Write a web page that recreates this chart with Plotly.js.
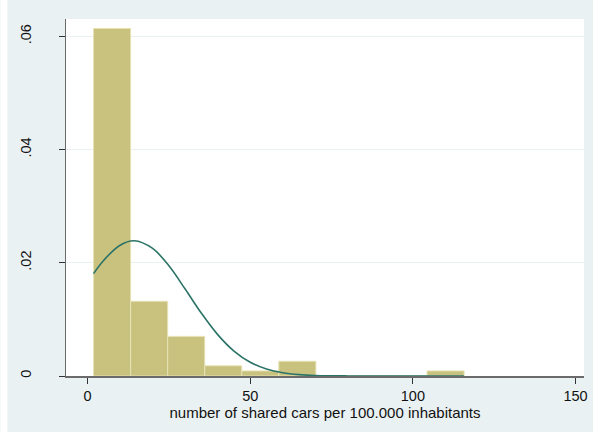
<!DOCTYPE html>
<html>
<head>
<meta charset="utf-8">
<script src="https://cdn.plot.ly/plotly-3.0.1.min.js"></script>
<style>
  html, body { margin: 0; padding: 0; background: #ffffff; }
  #chart { width: 593px; height: 432px; }
</style>
</head>
<body>
<div id="chart"></div>
<script>
// Histogram of shared cars per 100.000 inhabitants (density scale)
const binLower = [1.84, 13.23, 24.62, 36.01, 47.40, 58.79, 70.18, 81.57, 92.96, 104.35];
const binWidth = 11.39;
const binDensity = [0.0614, 0.0132, 0.0070, 0.0018, 0.0009, 0.0026, 0, 0, 0, 0.0009];

// Normal density overlay, sampled along the x axis
const curveX = [1.84, 5, 10, 14.3, 20, 25, 30, 35, 40, 45, 50, 55, 60, 65, 70, 80, 90, 115.7];
const curveY = [0.01809, 0.02046, 0.02311, 0.02389, 0.02254, 0.01946, 0.01536, 0.01108,
                0.00731, 0.00441, 0.00243, 0.00123, 0.000565, 0.000238, 0.0000917,
                0.0000104, 0.0000007, 0];

const xTicks = [0, 50, 100, 150];
const xTickText = ['0', '50', '100', '150'];
const yTicks = [0, 0.02, 0.04, 0.06];
const yTickText = ['0', '.02', '.04', '.06'];
const xTitle = 'number of shared cars per 100.000 inhabitants';

const binCenter = binLower.map(v => v + binWidth / 2);

const bars = {
  type: 'bar',
  x: binCenter,
  y: binDensity,
  width: binWidth,
  marker: { color: '#c9c27f', line: { color: '#e6e2b4', width: 1 } },
  hoverinfo: 'x+y'
};

const curve = {
  type: 'scatter',
  mode: 'lines',
  x: curveX,
  y: curveY,
  line: { color: '#2b7366', width: 1.6, shape: 'spline', smoothing: 1 },
  hoverinfo: 'skip'
};

const family = '"Liberation Sans", Arial, sans-serif';
const tickFont = { family: family, size: 14.5, color: '#111111' };
const titleFont = { family: family, size: 15, color: '#111111' };

const layout = {
  width: 593,
  height: 432,
  margin: { l: 65.7, r: 8.7, t: 18.7, b: 56.3, pad: 0 },
  paper_bgcolor: '#eaf1f3',
  plot_bgcolor: '#ffffff',
  showlegend: false,
  bargap: 0,
  font: tickFont,
  xaxis: {
    range: [-6.63, 152.6],
    tickmode: 'array',
    tickvals: xTicks,
    ticktext: xTickText,
    ticks: 'outside',
    ticklen: 6,
    tickwidth: 1,
    tickcolor: '#333333',
    showgrid: false,
    zeroline: false,
    showline: true,
    linecolor: '#6b6b6b',
    linewidth: 1.5,
    tickfont: tickFont,
    title: { text: xTitle, font: titleFont, standoff: 0 },
    automargin: false,
    fixedrange: true
  },
  yaxis: {
    range: [0, 0.06307],
    tickmode: 'array',
    tickvals: yTicks,
    ticktext: yTickText,
    ticks: 'outside',
    ticklen: 6,
    tickwidth: 1,
    tickcolor: '#333333',
    tickangle: -90,
    ticklabelstandoff: 22,
    showgrid: true,
    gridcolor: '#eaf1f3',
    gridwidth: 1,
    zeroline: false,
    showline: true,
    linecolor: '#6b6b6b',
    linewidth: 1.5,
    tickfont: tickFont,
    automargin: false,
    fixedrange: true
  },
  shapes: [
    // white strip along the left border of the graph region
    { type: 'rect', xref: 'paper', yref: 'paper', x0: -0.1267, x1: -0.1132, y0: -0.2, y1: 1.1,
      fillcolor: '#ffffff', line: { width: 0 }, layer: 'below' }
  ]
};

Plotly.newPlot('chart', [bars, curve], layout, { displayModeBar: false, staticPlot: true });
</script>
</body>
</html>
